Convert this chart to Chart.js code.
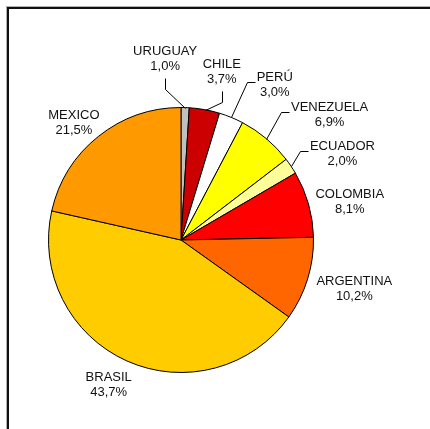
<!DOCTYPE html>
<html>
<head>
<meta charset="utf-8">
<script src="https://cdn.jsdelivr.net/npm/chart.js@4.4.0/dist/chart.umd.min.js"></script>
<style>
  html, body { margin: 0; padding: 0; background: #fff; }
  canvas { display: block; }
</style>
</head>
<body>
<canvas id="pieChart" width="430" height="429"></canvas>
<script>
// data
const countries = ['URUGUAY', 'CHILE', 'PERÚ', 'VENEZUELA', 'ECUADOR', 'COLOMBIA', 'ARGENTINA', 'BRASIL', 'MEXICO'];
const shares = [1.0, 3.7, 3.0, 6.9, 2.0, 8.1, 10.2, 43.7, 21.5];

const sliceColors = ['#C0C0C0', '#CC0000', '#FFFFFF', '#FFFF00', '#FFFF99', '#FF0000', '#FF6600', '#FFCC00', '#FF9900'];

// label placement around the pie: [angle nudge in deg, distance from centre in px, leader line]
const labelPlacement = [
  [-6.8, 182, true],
  [3.4, 173, true],
  [8.9, 181, true],
  [9.9, 194, true],
  [5.8, 183, true],
  [3.0, 173, false],
  [-1.5, 180, false],
  [2.4, 162, false],
  [-3.7, 159, false]
];

const fmtPct = v => v.toFixed(1).replace('.', ',') + '%';

// frame round the chart (top and left edges visible)
const framePlugin = {
  id: 'frame',
  beforeDraw(chart) {
    const ctx = chart.ctx;
    ctx.save();
    ctx.fillStyle = '#fff';
    ctx.fillRect(0, 0, chart.width, chart.height);
    ctx.fillStyle = '#b0b0b0';
    ctx.fillRect(6, 6, chart.width, 1);
    ctx.fillRect(6, 6, 1, chart.height);
    ctx.fillStyle = '#111';
    ctx.fillRect(7, 7, chart.width, 2);
    ctx.fillRect(7, 7, 2, chart.height);
    ctx.restore();
  }
};

// slice labels with leader lines
const sliceLabels = {
  id: 'sliceLabels',
  afterDatasetsDraw(chart) {
    const ctx = chart.ctx;
    const meta = chart.getDatasetMeta(0);
    const lineH = 15;
    ctx.save();
    ctx.font = '13px "Liberation Sans", Arial, sans-serif';
    ctx.fillStyle = '#111';
    ctx.strokeStyle = '#000';
    ctx.lineWidth = 1;
    ctx.textAlign = 'center';
    ctx.textBaseline = 'middle';
    meta.data.forEach((arc, i) => {
      const p = arc.getProps(['x', 'y', 'startAngle', 'endAngle', 'outerRadius'], true);
      const mid = (p.startAngle + p.endAngle) / 2;
      const [nudge, dist, leader] = labelPlacement[i];
      const a = mid + nudge * Math.PI / 180;
      const cx = p.x + Math.cos(a) * dist;
      const cy = p.y + Math.sin(a) * dist;
      const l1 = countries[i];
      const l2 = fmtPct(shares[i]);
      ctx.fillText(l1, cx, cy - lineH / 2);
      ctx.fillText(l2, cx, cy + lineH / 2);

      if (leader) {
        const px = p.x + Math.cos(mid) * p.outerRadius;
        const py = p.y + Math.sin(mid) * p.outerRadius;
        const w = Math.max(ctx.measureText(l1).width, ctx.measureText(l2).width);
        let ex, ey, kx, ky;
        if (Math.abs(cx - p.x) > 70) {
          ex = cx - w / 2 - 2;
          ey = cy - 3;
          kx = ex - 8;
          ky = ey;
        } else {
          ex = cx;
          ey = cy + 19;
          kx = ex;
          ky = ey + 11;
        }
        ctx.beginPath();
        ctx.moveTo(Math.round(px) + 0.5, Math.round(py) + 0.5);
        ctx.lineTo(Math.round(kx) + 0.5, Math.round(ky) + 0.5);
        ctx.lineTo(Math.round(ex) + 0.5, Math.round(ey) + 0.5);
        ctx.stroke();
      }
    });
    ctx.restore();
  }
};

new Chart(document.getElementById('pieChart'), {
  type: 'pie',
  data: {
    labels: countries,
    datasets: [{
      data: shares,
      backgroundColor: sliceColors,
      borderColor: '#000',
      borderWidth: 1
    }]
  },
  options: {
    responsive: false,
    animation: false,
    rotation: 0,
    layout: {
      padding: { left: 48, right: 116, top: 107, bottom: 56 }
    },
    plugins: {
      legend: { display: false },
      tooltip: { enabled: false }
    }
  },
  plugins: [framePlugin, sliceLabels]
});
</script>
</body>
</html>
